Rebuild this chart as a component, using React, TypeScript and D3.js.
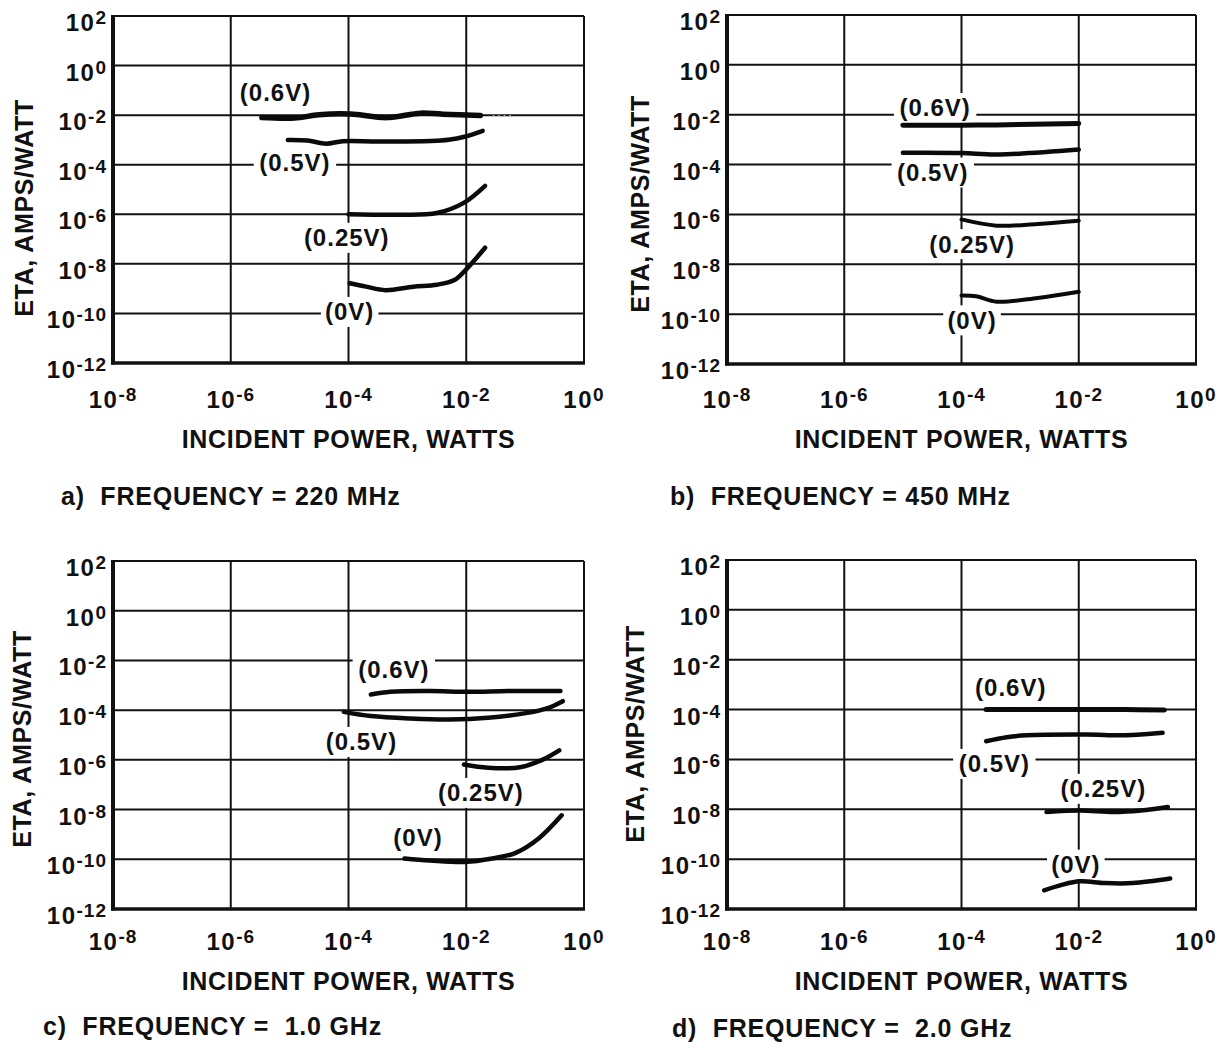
import * as d3 from 'd3';

// exponents of the grid lines / tick labels
const X_TICKS = [-8, -6, -4, -2, 0];
const Y_TICKS = [2, 0, -2, -4, -6, -8, -10, -12];

// curves as [log10(power W), log10(eta A/W)]
const A_V06 = [[-5.47, -2.1], [-4.92, -2.12], [-4.5, -1.98], [-3.97, -1.95], [-3.35, -2.1], [-2.78, -1.92], [-2.4, -1.96], [-1.76, -2.01]];
const A_V06_DOTS = [[-1.55, -2.02], [-1.2, -2.02]];
const A_V05 = [[-5.03, -3.0], [-4.7, -3.02], [-4.38, -3.15], [-4.1, -3.05], [-3.5, -3.06], [-2.6, -3.04], [-2.3, -2.99], [-2.03, -2.87], [-1.72, -2.63]];
const A_V025 = [[-4.0, -6.0], [-3.1, -6.02], [-2.5, -5.95], [-2.05, -5.55], [-1.68, -4.85]];
const A_V0 = [[-3.98, -8.78], [-3.7, -8.92], [-3.37, -9.06], [-2.9, -8.92], [-2.5, -8.84], [-2.2, -8.65], [-2.0, -8.22], [-1.68, -7.35]];

const B_V06 = [[-5.0, -2.42], [-4.0, -2.42], [-3.4, -2.41], [-2.0, -2.35]];
const B_V05 = [[-5.0, -3.53], [-4.0, -3.54], [-3.4, -3.6], [-2.0, -3.4]];
const B_V025 = [[-4.0, -6.2], [-3.4, -6.45], [-2.7, -6.38], [-2.0, -6.25]];
const B_V0 = [[-4.0, -9.25], [-3.75, -9.28], [-3.4, -9.5], [-2.7, -9.35], [-2.0, -9.1]];

const C_V06 = [[-3.62, -3.37], [-3.29, -3.26], [-2.62, -3.23], [-1.96, -3.26], [-1.29, -3.23], [-0.4, -3.23]];
const C_V05 = [[-4.08, -4.07], [-3.62, -4.24], [-2.95, -4.34], [-2.29, -4.38], [-1.63, -4.31], [-0.96, -4.11], [-0.63, -3.93], [-0.36, -3.64]];
const C_V025 = [[-2.04, -6.19], [-1.63, -6.32], [-1.09, -6.3], [-0.7, -5.99], [-0.42, -5.62]];
const C_V0 = [[-3.05, -9.97], [-2.62, -10.05], [-2.02, -10.11], [-1.56, -9.97], [-1.16, -9.74], [-0.76, -9.14], [-0.38, -8.23]];

const D_V06 = [[-3.58, -4.0], [-2.55, -4.0], [-1.21, -4.0], [-0.54, -4.02]];
const D_V05 = [[-3.58, -5.27], [-3.23, -5.11], [-2.89, -5.03], [-1.88, -5.0], [-1.21, -5.03], [-0.57, -4.93]];
const D_V025 = [[-2.55, -8.11], [-1.98, -8.05], [-1.41, -8.11], [-0.94, -8.05], [-0.48, -7.91]];
const D_V0 = [[-2.59, -11.25], [-2.29, -11.03], [-1.98, -10.89], [-1.55, -10.96], [-1.08, -10.96], [-0.44, -10.78]];

// curve labels: text + centre in the same log units
const A_LABELS = [['(0.6V)', -5.24, -1.1], ['(0.5V)', -4.91, -3.93], ['(0.25V)', -4.03, -6.95], ['(0V)', -3.98, -9.94]];
const B_LABELS = [['(0.6V)', -4.45, -1.73], ['(0.5V)', -4.49, -4.32], ['(0.25V)', -3.82, -7.19], ['(0V)', -3.82, -10.25]];
const C_LABELS = [['(0.6V)', -3.23, -2.36], ['(0.5V)', -3.78, -5.28], ['(0.25V)', -1.75, -7.33], ['(0V)', -2.82, -9.11]];
const D_LABELS = [['(0.6V)', -3.16, -3.13], ['(0.5V)', -3.44, -6.18], ['(0.25V)', -1.58, -7.18], ['(0V)', -2.05, -10.22]];

const X_TITLE = 'INCIDENT POWER, WATTS';
const Y_TITLE = 'ETA, AMPS/WATT';

const FONT = '"Liberation Sans", Arial, Helvetica, sans-serif';

const PANELS = [
  {
    id: 'a', caption: 'a)  FREQUENCY = 220 MHz',
    box: { x0: 113, x1: 584, y0: 16, y1: 363 }, tickDy: 45, titleDy: 85,
    yTitle: { x: 24, y: 208 }, cap: { x: 61, y: 505 },
    curves: [{ d: A_V06, w: 5.5 }, { d: A_V05, w: 4.5 }, { d: A_V025, w: 4.5 }, { d: A_V0, w: 4.5 }],
    dots: [A_V06_DOTS], labels: A_LABELS,
  },
  {
    id: 'b', caption: 'b)  FREQUENCY = 450 MHz',
    box: { x0: 727, x1: 1196, y0: 15, y1: 364 }, tickDy: 44, titleDy: 84,
    yTitle: { x: 640, y: 204 }, cap: { x: 670, y: 505 },
    curves: [{ d: B_V06, w: 5 }, { d: B_V05, w: 4.5 }, { d: B_V025, w: 4 }, { d: B_V0, w: 4 }],
    dots: [], labels: B_LABELS,
  },
  {
    id: 'c', caption: 'c)  FREQUENCY =  1.0 GHz',
    box: { x0: 113, x1: 584, y0: 561, y1: 909 }, tickDy: 41, titleDy: 81,
    yTitle: { x: 22, y: 739 }, cap: { x: 43, y: 1035 },
    curves: [{ d: C_V06, w: 4.5 }, { d: C_V05, w: 4.5 }, { d: C_V025, w: 4.5 }, { d: C_V0, w: 4.5 }],
    dots: [], labels: C_LABELS,
  },
  {
    id: 'd', caption: 'd)  FREQUENCY =  2.0 GHz',
    box: { x0: 727, x1: 1196, y0: 560, y1: 909 }, tickDy: 41, titleDy: 81,
    yTitle: { x: 635, y: 734 }, cap: { x: 672, y: 1037 },
    curves: [{ d: D_V06, w: 5 }, { d: D_V05, w: 4.5 }, { d: D_V025, w: 4.5 }, { d: D_V0, w: 4.5 }],
    dots: [], labels: D_LABELS,
  },
];

function Power({ base, exp }: { base: string; exp: number }) {
  return (
    <>
      <tspan fontSize={24} letterSpacing={1.5}>{base}</tspan>
      <tspan fontSize={19} dy={-7} letterSpacing={1}>{String(exp)}</tspan>
    </>
  );
}

function Panel({ p }: { p: any }) {
  const { x0, x1, y0, y1 } = p.box;
  const x = d3.scaleLog().domain([1e-8, 1]).range([x0, x1]);
  const y = d3.scaleLog().domain([1e-12, 1e2]).range([y1, y0]);
  const line = d3.line<number[]>()
    .x(d => x(10 ** d[0]))
    .y(d => y(10 ** d[1]))
    .curve(d3.curveCatmullRom.alpha(0.5));

  return (
    <g>
      {/* grid */}
      {Y_TICKS.map(t => (
        <line key={'h' + t} x1={x0} x2={x1} y1={y(10 ** t)} y2={y(10 ** t)} stroke="#111" strokeWidth={2} />
      ))}
      {X_TICKS.map(t => (
        <line key={'v' + t} x1={x(10 ** t)} x2={x(10 ** t)} y1={y0} y2={y1} stroke="#111" strokeWidth={2} />
      ))}
      {/* frame, left and bottom heavier */}
      <line x1={x0} x2={x0} y1={y0 - 1} y2={y1 + 1.5} stroke="#111" strokeWidth={4} />
      <line x1={x0 - 2} x2={x1 + 1} y1={y1} y2={y1} stroke="#111" strokeWidth={3.5} />

      {/* white boxes under the labels */}
      {p.labels.map(([t, lx, ly]: any) => {
        const w = t.length * 12.4 + 8;
        return (
          <rect key={'bg' + t} x={x(10 ** lx) - w / 2} y={y(10 ** ly) - 15} width={w} height={30} fill="#fff" />
        );
      })}

      {p.curves.map((c: any, i: number) => (
        <path key={'c' + i} d={line(c.d) || ''} fill="none" stroke="#0a0a0a" strokeWidth={c.w}
          strokeLinecap="round" strokeLinejoin="round" />
      ))}
      {p.dots.map((dd: any, i: number) => (
        <path key={'dt' + i} d={line(dd) || ''} fill="none" stroke="#b8b8b8" strokeWidth={1.5} strokeDasharray="1.5 4" />
      ))}

      {p.labels.map(([t, lx, ly]: any) => (
        <text key={'lb' + t} x={x(10 ** lx)} y={y(10 ** ly) + 8.5} textAnchor="middle"
          fontSize={24} fontWeight="bold" letterSpacing={1} fill="#111">{t}</text>
      ))}

      {/* y ticks */}
      {Y_TICKS.map(t => (
        <text key={'yt' + t} x={x0 - 6} y={y(10 ** t) + 15} textAnchor="end" fontWeight="bold" fill="#111">
          <Power base="10" exp={t} />
        </text>
      ))}
      {/* x ticks */}
      {X_TICKS.map(t => (
        <text key={'xt' + t} x={x(10 ** t)} y={y1 + p.tickDy} textAnchor="middle" fontWeight="bold" fill="#111">
          <Power base="10" exp={t} />
        </text>
      ))}

      <text x={(x0 + x1) / 2} y={y1 + p.titleDy} textAnchor="middle" fontSize={25} fontWeight="bold"
        letterSpacing={0.7} fill="#111">{X_TITLE}</text>
      <text transform={`translate(${p.yTitle.x},${p.yTitle.y}) rotate(-90)`} textAnchor="middle"
        dominantBaseline="central" fontSize={25} fontWeight="bold" letterSpacing={0.6} fill="#111">{Y_TITLE}</text>
      <text x={p.cap.x} y={p.cap.y} fontSize={25} fontWeight="bold" letterSpacing={0.8} fill="#111"
        style={{ whiteSpace: 'pre' }}>{p.caption}</text>
    </g>
  );
}

export default function App() {
  return (
    <div style={{ position: 'absolute', left: 0, top: 0 }}>
      <svg width={1230} height={1042} style={{ display: 'block', background: '#fff' }} fontFamily={FONT}>
        {PANELS.map(p => <Panel key={p.id} p={p} />)}
      </svg>
    </div>
  );
}
